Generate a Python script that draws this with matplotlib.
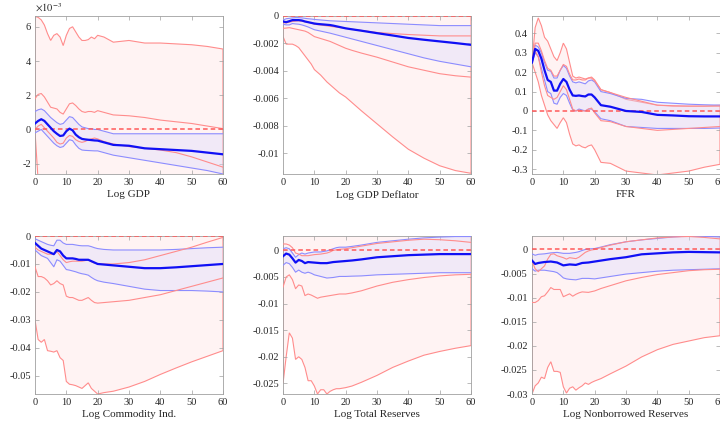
import numpy as np
import matplotlib
matplotlib.use("Agg")
import matplotlib.pyplot as plt
from matplotlib.ticker import FuncFormatter

plt.rcParams['font.family'] = ['Liberation Serif', 'DejaVu Serif']
plt.rcParams['mathtext.fontset'] = 'stix'
plt.rcParams['axes.unicode_minus'] = False

# horizons (quarters)
h = [0, 1, 2, 3, 4, 5, 6, 7, 8, 9, 10, 11, 12, 13, 14, 15, 16, 17, 18, 19, 20,
     22, 25, 30, 35, 40, 45, 50, 55, 60]

# ---- Log GDP (x 1e-3) ----
gdp_red_hi = [6.6, 6.55, 6.4, 6.1, 5.6, 5.2, 5.5, 5.6, 5.4, 4.9, 5.5, 5.9, 6.0, 5.7, 5.4, 5.2, 5.2, 5.25, 5.4, 5.3,
              5.5, 5.4, 5.1, 5.2, 5.05, 5.05, 5.0, 4.95, 4.85, 4.7]
gdp_red_mid_hi = [1.8, 2.05, 2.1, 1.9, 1.6, 1.3, 1.25, 1.2, 1.0, 0.9, 1.2, 1.5, 1.55, 1.4, 1.2, 1.05, 1.0, 1.05, 1.05, 1.0,
                  1.1, 1.0, 0.85, 0.8, 0.7, 0.55, 0.45, 0.35, 0.2, 0.05]
gdp_blue_hi = [1.05, 1.15, 1.2, 1.1, 0.9, 0.7, 0.55, 0.4, 0.3, 0.35, 0.55, 0.75, 0.7, 0.5, 0.3, 0.15, 0.1, 0.05, 0.05, 0.0,
               0.0, -0.1, -0.25, -0.25, -0.25, -0.25, -0.25, -0.25, -0.25, -0.25]
gdp_med = [0.35, 0.5, 0.6, 0.5, 0.3, 0.1, -0.1, -0.25, -0.38, -0.35, -0.1, 0.05, -0.05, -0.3, -0.45, -0.55, -0.58, -0.6,
           -0.62, -0.64, -0.65, -0.75, -0.9, -0.95, -1.1, -1.15, -1.2, -1.25, -1.35, -1.45]
gdp_red_mid_lo = [0.0, 0.2, 0.3, 0.1, -0.1, -0.3, -0.5, -0.75, -0.85, -0.8, -0.5, -0.35, -0.4, -0.6, -0.7, -0.75, -0.7,
                  -0.6, -0.55, -0.5, -0.55, -0.7, -0.85, -1.0, -1.1, -1.2, -1.35, -1.6, -1.9, -2.2]
gdp_blue_lo = [-0.2, -0.1, 0.0, -0.2, -0.4, -0.6, -0.8, -0.95, -1.05, -1.0, -0.8, -0.6, -0.65, -0.9, -1.1, -1.2, -1.22,
               -1.23, -1.24, -1.25, -1.25, -1.35, -1.5, -1.65, -1.8, -1.95, -2.1, -2.25, -2.4, -2.6]
gdp_red_lo = [-0.1, -3.0, -3.1, -3.2, -3.3, -3.4, -3.4, -3.5, -3.5, -3.5, -3.4, -3.3, -3.3, -3.4, -3.5, -3.6, -3.6, -3.6,
              -3.6, -3.6, -3.6, -3.7, -3.8, -3.9, -4.0, -4.1, -4.2, -4.3, -4.4, -4.5]

# ---- Log GDP Deflator (x 1e-3) ----
def_red_hi = [0.05] * 30
def_blue_hi = [-0.3, -0.2, -0.17, -0.14, -0.12, -0.12, -0.14, -0.17, -0.2, -0.22, -0.25, -0.27, -0.29, -0.31, -0.33,
               -0.35, -0.36, -0.37, -0.38, -0.39, -0.4, -0.42, -0.45, -0.5, -0.55, -0.6, -0.65, -0.7, -0.7, -0.7]
def_med = [-0.4, -0.45, -0.38, -0.3, -0.3, -0.3, -0.33, -0.4, -0.45, -0.5, -0.55, -0.58, -0.6, -0.62, -0.64, -0.66,
           -0.7, -0.75, -0.8, -0.85, -0.9, -0.97, -1.07, -1.25, -1.42, -1.6, -1.73, -1.85, -1.97, -2.1]
def_red_mid_hi = [-0.5, -0.5, -0.45, -0.4, -0.37, -0.35, -0.38, -0.42, -0.45, -0.52, -0.6, -0.63, -0.66, -0.69, -0.72,
                  -0.75, -0.78, -0.81, -0.84, -0.87, -0.9, -0.96, -1.05, -1.2, -1.28, -1.35, -1.4, -1.45, -1.45, -1.45]
def_blue_lo = [-0.6, -0.65, -0.65, -0.55, -0.58, -0.6, -0.65, -0.72, -0.8, -0.9, -1.0, -1.05, -1.1, -1.15, -1.2, -1.25,
               -1.31, -1.37, -1.43, -1.49, -1.55, -1.67, -1.85, -2.15, -2.45, -2.75, -3.05, -3.3, -3.5, -3.7]
def_red_mid_lo = [-0.9, -0.88, -0.85, -0.9, -0.95, -1.0, -1.05, -1.1, -1.2, -1.35, -1.5, -1.57, -1.64, -1.71, -1.78,
                  -1.85, -1.95, -2.05, -2.15, -2.25, -2.35, -2.5, -2.7, -3.0, -3.35, -3.7, -3.95, -4.2, -4.35, -4.45]
def_red_lo = [-1.5, -2.05, -2.05, -2.05, -2.15, -2.3, -2.6, -2.9, -3.2, -3.5, -3.9, -4.1, -4.3, -4.55, -4.8, -5.0, -5.2,
              -5.4, -5.6, -5.75, -5.9, -6.3, -6.9, -7.85, -8.8, -9.7, -10.35, -10.9, -11.25, -11.45]

# ---- FFR ----
ffr_red_hi = [0.25, 0.43, 0.48, 0.44, 0.38, 0.36, 0.32, 0.28, 0.26, 0.30, 0.35, 0.32, 0.25, 0.18, 0.17, 0.175, 0.17,
              0.165, 0.17, 0.175, 0.16, 0.11, 0.095, 0.06, 0.045, 0.03, 0.025, 0.025, 0.025, 0.03]
ffr_red_mid_hi = [0.25, 0.35, 0.35, 0.31, 0.26, 0.22, 0.21, 0.18, 0.18, 0.21, 0.24, 0.23, 0.19, 0.16, 0.16, 0.165, 0.16,
                  0.16, 0.17, 0.17, 0.155, 0.11, 0.095, 0.07, 0.05, 0.03, 0.027, 0.025, 0.025, 0.025]
ffr_blue_hi = [0.25, 0.34, 0.33, 0.30, 0.25, 0.21, 0.205, 0.17, 0.17, 0.21, 0.235, 0.22, 0.18, 0.15, 0.145, 0.15, 0.145,
               0.14, 0.155, 0.16, 0.15, 0.1, 0.09, 0.065, 0.06, 0.045, 0.04, 0.035, 0.032, 0.03]
ffr_med = [0.25, 0.32, 0.31, 0.27, 0.21, 0.16, 0.15, 0.105, 0.105, 0.14, 0.165, 0.15, 0.11, 0.08, 0.078, 0.08, 0.077,
           0.075, 0.085, 0.085, 0.07, 0.03, 0.022, 0.0, -0.005, -0.02, -0.023, -0.027, -0.028, -0.028]
ffr_blue_lo = [0.25, 0.30, 0.28, 0.22, 0.16, 0.10, 0.09, 0.04, 0.035, 0.07, 0.09, 0.08, 0.04, 0.005, 0.0, 0.01, 0.005,
               0.0, 0.01, 0.01, -0.005, -0.04, -0.05, -0.08, -0.085, -0.09, -0.09, -0.09, -0.09, -0.088]
ffr_red_mid_lo = [0.25, 0.31, 0.28, 0.20, 0.13, 0.08, 0.07, 0.06, 0.07, 0.10, 0.13, 0.11, 0.06, 0.01, 0.0, 0.005, 0.0,
                  0.0, 0.01, 0.015, -0.01, -0.05, -0.055, -0.08, -0.09, -0.1, -0.095, -0.09, -0.085, -0.08]
ffr_red_lo = [0.25, 0.2, 0.15, 0.08, 0.03, -0.02, -0.05, -0.07, -0.09, -0.06, -0.035, -0.06, -0.12, -0.17, -0.18,
              -0.175, -0.185, -0.19, -0.18, -0.175, -0.2, -0.265, -0.27, -0.31, -0.32, -0.33, -0.32, -0.31, -0.29, -0.275]

# ---- Log Commodity Ind. (x 1e-2) ----
com_red_hi = [0.02] * 30
com_blue_hi = [-0.1, -0.15, -0.2, -0.25, -0.3, -0.33, -0.35, -0.15, -0.15, -0.25, -0.3, -0.3, -0.3, -0.32, -0.34, -0.35,
               -0.35, -0.35, -0.38, -0.42, -0.45, -0.48, -0.5, -0.5, -0.5, -0.5, -0.48, -0.45, -0.42, -0.4]
com_med = [-0.25, -0.35, -0.45, -0.5, -0.55, -0.6, -0.65, -0.5, -0.55, -0.7, -0.8, -0.8, -0.8, -0.82, -0.85, -0.85,
           -0.85, -0.85, -0.9, -0.95, -1.0, -1.02, -1.05, -1.1, -1.15, -1.15, -1.12, -1.08, -1.04, -1.0]
com_red_mid_hi = [-0.4, -0.5, -0.55, -0.6, -0.65, -0.65, -0.65, -0.55, -0.7, -0.85, -0.95, -0.92, -0.9, -0.9, -0.9,
                  -0.9, -0.88, -0.85, -0.92, -0.97, -1.0, -1.0, -1.0, -0.95, -0.85, -0.7, -0.55, -0.4, -0.22, -0.05]
com_blue_lo = [-0.5, -0.6, -0.7, -0.75, -0.8, -0.95, -1.1, -0.85, -0.9, -1.05, -1.2, -1.22, -1.25, -1.28, -1.32, -1.35,
               -1.37, -1.4, -1.48, -1.55, -1.6, -1.65, -1.7, -1.8, -1.9, -1.95, -1.95, -1.95, -1.97, -2.0]
com_red_mid_lo = [-1.1, -1.45, -1.45, -1.5, -1.6, -1.75, -1.7, -1.6, -1.7, -1.75, -2.15, -2.2, -2.2, -2.25, -2.3, -2.3,
                  -2.25, -2.2, -2.3, -2.38, -2.4, -2.38, -2.35, -2.3, -2.2, -2.1, -1.95, -1.8, -1.65, -1.5]
com_red_lo = [-3.0, -3.7, -3.8, -3.7, -4.1, -4.12, -4.15, -4.1, -4.35, -4.45, -5.2, -5.3, -5.32, -5.35, -5.4, -5.45,
              -5.35, -5.25, -5.45, -5.55, -5.65, -5.6, -5.55, -5.4, -5.2, -4.95, -4.72, -4.5, -4.3, -4.1]

# ---- Log Total Reserves (x 1e-3) ----
tr_red_hi = [3.0] * 30
tr_red_mid_hi = [1.2, 1.2, 1.0, 0.5, -0.5, -0.7, -1.0, -1.0, -1.0, -0.9, -0.8, -0.75, -0.7, -0.6, -0.5, -0.3, 0.0, 0.1,
                 0.2, 0.25, 0.3, 0.5, 0.8, 1.3, 1.6, 1.9, 2.1, 2.0, 1.8, 1.5]
tr_blue_hi = [0.3, 0.5, 0.3, -0.5, -1.3, -0.8, -0.5, -0.7, -0.5, -0.4, -0.3, -0.3, -0.3, -0.2, -0.1, 0.1, 0.3, 0.5,
              0.6, 0.6, 0.6, 0.75, 1.0, 1.5, 1.8, 2.1, 2.35, 2.5, 2.6, 2.6]
tr_med = [-1.1, -0.6, -0.8, -1.5, -2.3, -1.8, -2.0, -2.4, -2.2, -2.25, -2.3, -2.35, -2.4, -2.4, -2.4, -2.3, -2.2, -2.15,
          -2.1, -2.05, -2.0, -1.9, -1.7, -1.3, -1.1, -0.9, -0.8, -0.7, -0.7, -0.7]
tr_blue_lo = [-2.8, -2.3, -2.5, -3.2, -4.1, -3.7, -4.1, -4.3, -4.1, -4.3, -4.6, -4.75, -4.9, -5.05, -5.2, -5.15, -5.1,
              -5.0, -4.9, -4.9, -4.9, -4.85, -4.8, -4.6, -4.5, -4.4, -4.3, -4.2, -4.2, -4.2]
tr_red_mid_lo = [-6.9, -5.0, -4.6, -5.5, -7.2, -6.5, -6.7, -8.5, -8.2, -8.4, -8.7, -9.0, -8.8, -8.7, -8.6, -8.5, -8.4,
                 -8.3, -8.2, -8.2, -8.2, -8.0, -7.6, -6.7, -6.0, -5.5, -5.1, -4.8, -4.6, -4.5]
tr_red_lo = [-25.0, -20.0, -15.5, -16.5, -20.5, -20.0, -20.5, -22.0, -24.5, -24.5, -25.5, -27.0, -26.2, -26.2, -27.0,
             -26.5, -26.2, -26.0, -26.0, -25.9, -25.8, -25.5, -24.8, -23.5, -22.0, -20.8, -19.7, -19.0, -18.4, -17.9]

# ---- Log Nonborrowed Reserves (x 1e-3) ----
nbr_red_hi = [3.5] * 30
nbr_blue_hi = [-0.9, -1.2, -1.0, -0.95, -0.9, -0.8, -0.7, -0.65, -0.6, -0.7, -0.8, -0.8, -0.8, -0.7, -0.6, -0.45, -0.2,
               0.0, 0.1, 0.15, 0.2, 0.5, 1.0, 1.6, 2.0, 2.3, 2.6, 2.8, 2.75, 2.6]
nbr_med = [-2.3, -3.0, -2.8, -2.7, -2.6, -2.55, -2.5, -2.6, -2.7, -3.0, -3.3, -3.2, -3.1, -3.15, -3.2, -3.0, -2.8, -2.75,
           -2.7, -2.6, -2.5, -2.3, -2.0, -1.6, -1.0, -0.8, -0.6, -0.5, -0.55, -0.6]
nbr_red_mid_hi = [-2.4, -4.0, -4.6, -4.0, -3.4, -2.0, -1.0, -0.9, -1.3, -1.5, -1.7, -2.0, -1.7, -1.8, -1.9, -1.6, -1.1,
                  -0.6, -0.3, -0.1, 0.0, 0.4, 0.9, 1.6, 2.0, 2.4, 2.6, 2.7, 2.5, 2.2]
nbr_blue_lo = [-4.0, -4.5, -4.3, -4.3, -4.3, -4.4, -4.5, -4.6, -4.8, -5.3, -5.9, -6.1, -6.2, -6.25, -6.3, -6.15, -6.0,
               -6.0, -6.0, -6.05, -6.1, -5.9, -5.6, -5.1, -4.8, -4.5, -4.3, -4.2, -4.1, -4.0]
nbr_red_mid_lo = [-11.0, -11.0, -10.6, -9.8, -9.6, -8.8, -7.9, -8.3, -8.3, -8.3, -9.8, -9.5, -9.2, -9.7, -9.3, -9.0,
                  -8.8, -8.85, -8.9, -8.75, -8.6, -8.1, -7.5, -6.5, -5.8, -5.2, -4.8, -4.4, -4.2, -4.1]
nbr_red_lo = [-30.0, -28.3, -27.7, -26.5, -26.8, -24.5, -23.3, -25.3, -25.3, -25.5, -28.5, -29.8, -28.8, -28.5, -29.2,
              -28.7, -28.3, -27.7, -28.0, -27.6, -27.3, -26.8, -25.8, -24.2, -22.3, -20.8, -19.7, -19.0, -18.3, -17.9]

titles = ['Log GDP', 'Log GDP Deflator', 'FFR', 'Log Commodity Ind.', 'Log Total Reserves',
          'Log Nonborrowed Reserves']
scales = [1.0, 1e-3, 1.0, 1e-2, 1e-3, 1e-3]
series = [
    (gdp_red_hi, gdp_red_mid_hi, gdp_blue_hi, gdp_med, gdp_blue_lo, gdp_red_mid_lo, gdp_red_lo),
    (def_red_hi, def_red_mid_hi, def_blue_hi, def_med, def_blue_lo, def_red_mid_lo, def_red_lo),
    (ffr_red_hi, ffr_red_mid_hi, ffr_blue_hi, ffr_med, ffr_blue_lo, ffr_red_mid_lo, ffr_red_lo),
    (com_red_hi, com_red_mid_hi, com_blue_hi, com_med, com_blue_lo, com_red_mid_lo, com_red_lo),
    (tr_red_hi, tr_red_mid_hi, tr_blue_hi, tr_med, tr_blue_lo, tr_red_mid_lo, tr_red_lo),
    (nbr_red_hi, nbr_red_mid_hi, nbr_blue_hi, nbr_med, nbr_blue_lo, nbr_red_mid_lo, nbr_red_lo),
]
ylims = [(-2.6, 6.63), (-0.0115, 0), (-0.325, 0.49), (-0.0565, 0), (-0.027, 0.0027), (-0.03, 0.0028)]
yticks = [[-2, 0, 2, 4, 6],
          [-0.01, -0.008, -0.006, -0.004, -0.002, 0],
          [-0.3, -0.2, -0.1, 0, 0.1, 0.2, 0.3, 0.4],
          [-0.05, -0.04, -0.03, -0.02, -0.01, 0],
          [-0.025, -0.02, -0.015, -0.01, -0.005, 0],
          [-0.03, -0.025, -0.02, -0.015, -0.01, -0.005, 0]]

# axes rectangles [left, bottom, width, height] in figure fractions
lefts = [0.0486, 0.3931, 0.7389]
bottoms = [0.5906, 0.0729]
W, H = 0.2611, 0.3718

fig = plt.figure(figsize=(7.2, 4.25), dpi=100)
x = np.array(h)
frame = '#a0a0a0'

for i in range(6):
    ax = fig.add_axes([lefts[i % 3], bottoms[i // 3], W, H])
    s = scales[i]
    rh, rmh, bh, md, bl, rml, rl = [np.array(v) * s for v in series[i]]

    ax.fill(np.r_[x, x[::-1]], np.r_[rh, rl[::-1]], fc='#fff3f3', ec='#ff8c8c', lw=0.8, zorder=1)
    ax.fill(np.r_[x, x[::-1]], np.r_[bh, bl[::-1]], fc=(0.85, 0.85, 1.0), alpha=0.35, ec='none', zorder=2)
    ax.plot(x, bh, color='#8c8cff', lw=0.8, zorder=3)
    ax.plot(x, bl, color='#8c8cff', lw=0.8, zorder=3)
    ax.plot(x, rmh, color='#ff8c8c', lw=0.8, zorder=3)
    ax.plot(x, rml, color='#ff8c8c', lw=0.8, zorder=3)
    ax.plot([0, 60], [0, 0], color='#ff5a5a', lw=1.1, ls=(0, (3, 2)), zorder=4)
    ax.plot(x, md, color='#1010f5', lw=1.6, zorder=5)

    ax.set_xlim(0, 60)
    ax.set_ylim(*ylims[i])
    ax.set_xticks(range(0, 61, 10))
    ax.set_yticks(yticks[i])
    ax.yaxis.set_major_formatter(FuncFormatter(lambda v, p: '%g' % round(v, 6)))
    ax.tick_params(direction='in', top=True, right=True, length=3, width=0.5, color=frame,
                   labelsize=7.5, labelcolor='#262626', pad=3)
    for sp in ax.spines.values():
        sp.set_color(frame)
        sp.set_linewidth(0.6)
    ax.set_xlabel(titles[i], fontsize=8, color='#262626', labelpad=2)
    if i == 0:
        ax.text(0.0, 1.01, r'$\times10^{-3}$', transform=ax.transAxes, fontsize=7.5,
                color='#262626', ha='left', va='bottom')

fig.savefig('out.png', dpi=100)
